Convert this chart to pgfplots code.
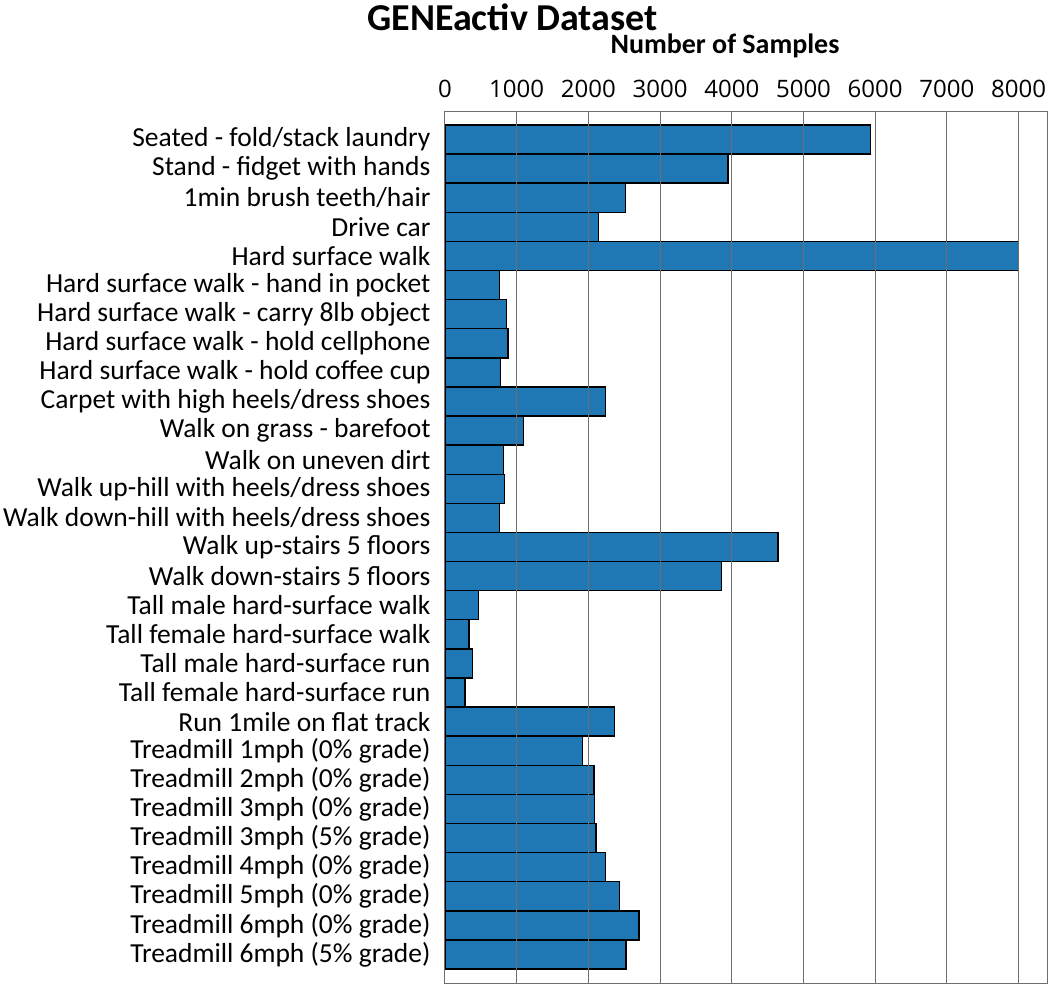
\documentclass[border=0pt]{standalone}
\usepackage{fontspec}
\setmainfont{Carlito}
\newfontfamily\tickfont{Open Sans}
\usepackage{pgfplots}
\pgfplotsset{compat=1.18}
\definecolor{barblue}{RGB}{31,119,180}
\definecolor{gridgray}{RGB}{110,110,110}
\begin{document}
\begin{tikzpicture}
\useasboundingbox (-445pt,-3pt) rectangle (605pt,983pt);
\begin{axis}[
  at={(0pt,0pt)}, anchor=south west,
  scale only axis, width=603pt, height=872pt,
  xmin=0, xmax=8410, ymin=-0.98, ymax=28.98, y dir=reverse,
  xbar, bar width=29.1pt, bar shift=0pt,
  xticklabel pos=upper,
  xtick={0,1000,...,8000},
  ytick={0,...,28},
  yticklabels={
    {Seated - fold/stack laundry},
    {Stand - fidget with hands},
    {1min brush teeth/hair},
    {Drive car},
    {Hard surface walk},
    {Hard surface walk - hand in pocket},
    {Hard surface walk - carry 8lb object},
    {Hard surface walk - hold cellphone},
    {Hard surface walk - hold coffee cup},
    {Carpet with high heels/dress shoes},
    {Walk on grass - barefoot},
    {Walk on uneven dirt},
    {Walk up-hill with heels/dress shoes},
    {Walk down-hill with heels/dress shoes},
    {Walk up-stairs 5 floors},
    {Walk down-stairs 5 floors},
    {Tall male hard-surface walk},
    {Tall female hard-surface walk},
    {Tall male hard-surface run},
    {Tall female hard-surface run},
    {Run 1mile on flat track},
    {Treadmill 1mph (0\% grade)},
    {Treadmill 2mph (0\% grade)},
    {Treadmill 3mph (0\% grade)},
    {Treadmill 3mph (5\% grade)},
    {Treadmill 4mph (0\% grade)},
    {Treadmill 5mph (0\% grade)},
    {Treadmill 6mph (0\% grade)},
    {Treadmill 6mph (5\% grade)}
  },
  xmajorgrids,
  major grid style={gridgray, line width=1pt},
  axis line style={gridgray, line width=1pt},
  major tick length=0pt,
  axis on top,
  /pgf/number format/assume math mode=true,
  /pgf/number format/set thousands separator={},
  xticklabel style={font=\tickfont\fontsize{24}{28}\selectfont, yshift=10pt},
  yticklabel style={font=\fontsize{27.5}{30}\selectfont, xshift=-11pt},
]
\addplot[fill=barblue, draw=black, line width=1.4pt] coordinates {
  (5935,0) (3945,1) (2515,2) (2143,3) (8000,4)
  (760,5) (856,6) (876,7) (772,8) (2236,9)
  (1092,10) (813,11) (832,12) (757,13) (4645,14)
  (3855,15) (465,16) (335,17) (381,18) (279,19)
  (2361,20) (1915,21) (2078,22) (2083,23) (2106,24)
  (2236,25) (2437,26) (2705,27) (2526,28)
};
\end{axis}
\node[font=\fontsize{38}{40}\selectfont\bfseries] at (67.5pt,966pt) {GENEactiv Dataset};
\node[font=\fontsize{28}{30}\selectfont\bfseries] at (280pt,937pt) {Number of Samples};
\end{tikzpicture}
\end{document}
